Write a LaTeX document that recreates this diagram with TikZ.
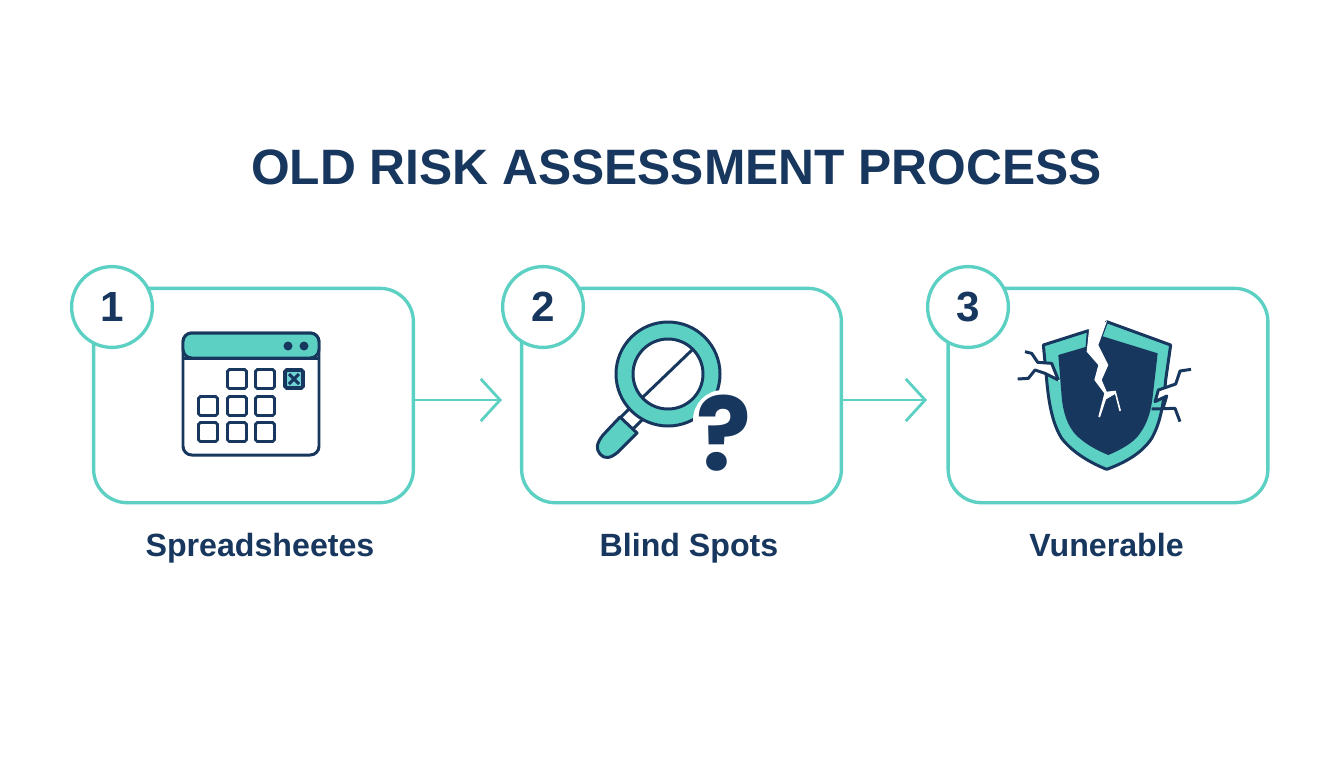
\documentclass[tikz,border=0pt]{standalone}
\usepackage{fontspec}
\setmainfont{Liberation Sans}
\newfontfamily\queryfont{Poppins}
\usetikzlibrary{arrows.meta}
\definecolor{navy}{HTML}{17375E}
\definecolor{teal}{HTML}{5DD0C4}
\definecolor{lightteal}{HTML}{6FD3D6}
\tikzset{
  card/.style={draw=teal,line width=1.9pt,rounded corners=19pt,minimum width=182pt,minimum height=122pt,inner sep=0pt},
  badge/.style={circle,draw=teal,fill=white,line width=1.9pt,minimum size=46pt,inner sep=0pt,text=navy,font=\fontsize{24}{24}\selectfont\bfseries},
  steplabel/.style={anchor=base,text=navy,font=\fontsize{18.3}{20}\selectfont\bfseries},
  flow/.style={draw=teal,line width=1.6pt,-{Straight Barb[length=11pt,width=24pt,line width=1.6pt]}},
  cell/.style={draw=navy,line width=1.6pt,fill=white,rounded corners=1pt},
  icon/.style={draw=navy,line width=1.7pt,line join=round}
}
\begin{document}
\begin{tikzpicture}[x=0.02cm,y=-0.02cm]
  \useasboundingbox[fill=white] (0,0) rectangle (1344,768);
  \node[anchor=base,text=navy,font=\fontsize{28.3}{30}\selectfont\bfseries] (title) at (676.5,184) {OLD RISK ASSESSMENT PROCESS};
  % cards
  \node[card] (card1) at (253.5,395.5) {};
  \node[card] (card2) at (681.5,395.5) {};
  \node[card] (card3) at (1108,395.5) {};
  \node[badge] (badge1) at (112,307) {1};
  \node[badge] (badge2) at (543,307) {2};
  \node[badge] (badge3) at (968,307) {3};
  \node[steplabel] (label1) at (260,556) {Spreadsheetes};
  \node[steplabel] (label2) at (689,556) {Blind Spots};
  \node[steplabel] (label3) at (1106.5,556) {Vunerable};
  % arrows
  \coordinate (from1) at (415,400);
  \coordinate (to1) at (502,400);
  \coordinate (from2) at (843,400);
  \coordinate (to2) at (927,400);
  \draw[flow] (from1) -- (to1);
  \draw[flow] (from2) -- (to2);
  % calendar
  \draw[icon,fill=white,rounded corners=5pt] (183,333) rectangle (319,455);
  \draw[icon,fill=teal,rounded corners=5pt] (183,358) -- (183,333) -- (319,333) -- (319,358) -- cycle;
  \draw[icon,sharp corners] (183,358) -- (319,358);
  \fill[navy] (288,346) circle (4.5) (304,346) circle (4.5);
  \foreach \x/\y in {237/379,265/379,208/406,237/406,265/406,208/432,237/432,265/432}
    \draw[cell] (\x-9.5,\y-9.5) rectangle (\x+9.5,\y+9.5);
  \draw[cell,fill=lightteal,line width=2.2pt] (285,370) rectangle (303,388);
  \draw[navy,line width=1.7pt] (289,374) -- (299,384) (299,374) -- (289,384);
  % magnifier
  \draw[icon] (630,408) -- (620,418);
  \draw[icon] (642,420) -- (632,430);
  \draw[icon,fill=teal] (620,417) -- (637,433) -- (618,452) .. controls (610,459) and (604,459) .. (600,454) .. controls (596,449) and (596,444) .. (603,435) -- cycle;
  \draw[icon,fill=teal] (668,374) circle (52);
  \draw[icon,fill=white] (668,374) circle (35);
  \draw[icon] (643,397) -- (692,350);
  \fill[white] (723,420) circle (30);
  \node[text=navy,font=\queryfont\fontsize{58}{58}\selectfont\bfseries,anchor=base] (query) at (724,470) {?};
  % shield
  \begin{scope}[shift={(1005,310)},scale=1/3]
    \draw[icon,fill=teal] (250,62) -- (115,105) -- (125,210) .. controls (132,290) and (145,345) .. (170,385) .. controls (205,430) and (260,460) .. (305,478) .. controls (360,458) and (410,430) .. (440,385) .. controls (465,340) and (475,290) .. (482,210) -- (497,105) -- (305,35) -- (280,100) -- (245,125) -- cycle;
    \fill[navy] (245,110) -- (160,135) -- (170,260) .. controls (175,320) and (195,365) .. (230,390) .. controls (255,410) and (285,425) .. (310,435) .. controls (345,420) and (385,400) .. (405,370) .. controls (430,335) and (438,300) .. (443,260) -- (458,130) -- (290,78) -- cycle;
    % crack
    \fill[white] (252,60) -- (245,125) -- (280,165) -- (268,210) -- (298,250) -- (280,320) -- (285,322) -- (303,268) -- (330,252) -- (343,303) -- (348,302) -- (332,242) -- (305,245) -- (290,210) -- (310,165) -- (280,105) -- (306,33) -- cycle;
    % side fractures
    \fill[white] (95,160) -- (140,160) -- (165,215) -- (120,187) -- (90,180) -- cycle;
    \fill[white] (512,222) -- (462,238) -- (450,275) -- (485,258) -- (475,292) -- (510,290) -- (525,240) -- cycle;
    \draw[icon] (60,125) -- (80,130) -- (98,157) -- (140,160) -- (160,210);
    \draw[icon] (38,207) -- (70,205) -- (90,180) -- (120,190) -- (160,210);
    \draw[icon] (558,178) -- (525,183) -- (512,222) -- (460,240) -- (450,275) -- (485,258) -- (475,292);
    \draw[icon] (440,297) -- (510,295) -- (525,335);
  \end{scope}
\end{tikzpicture}
\end{document}
